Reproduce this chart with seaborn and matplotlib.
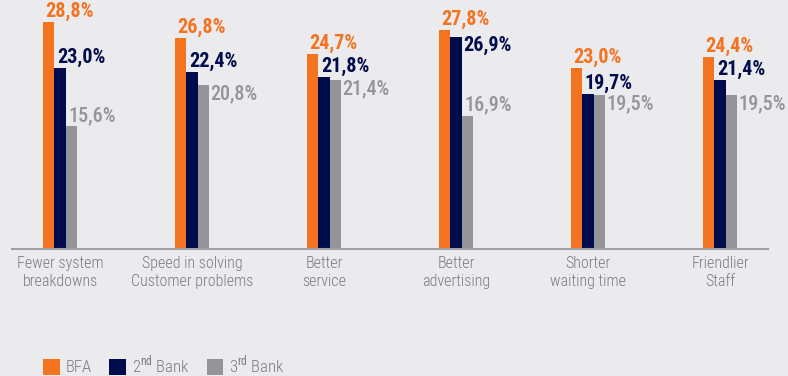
import matplotlib
matplotlib.use("Agg")
import matplotlib.pyplot as plt
from matplotlib import font_manager
from matplotlib.patches import Patch
import pandas as pd
import seaborn as sns

categories = ["Fewer system\nbreakdowns", "Speed in solving\nCustomer problems", "Better\nservice",
              "Better\nadvertising", "Shorter\nwaiting time", "Friendlier\nStaff"]
series = ["BFA", "2nd Bank", "3rd Bank"]
bfa = [28.8, 26.8, 24.7, 27.8, 23.0, 24.4]
bank2 = [23.0, 22.4, 21.8, 26.9, 19.7, 21.4]
bank3 = [15.6, 20.8, 21.4, 16.9, 19.5, 19.5]
legend_labels = ["BFA", r"2$^{\mathrm{nd}}$ Bank", r"3$^{\mathrm{rd}}$ Bank"]

# value labels that sit beside their bar instead of above it: (series index, category index)
side_labels = {(2, 1), (2, 2), (1, 3), (2, 4), (2, 5)}

colors = ["#F47321", "#000C4B", "#939598"]
label_weights = ["bold", "bold", "medium"]
bg = "#EBEBED"
text_grey = "#7C7C7E"

sns.set_theme(style="white")
available = {f.name for f in font_manager.fontManager.ttflist}
font = next((f for f in ["Roboto Condensed", "Archivo Narrow", "Barlow Semi Condensed",
                         "Encode Sans Condensed", "Liberation Sans"] if f in available), "DejaVu Sans")
plt.rcParams["font.family"] = [font, "DejaVu Sans"]
plt.rcParams["mathtext.fontset"] = "custom"
plt.rcParams["mathtext.rm"] = font

df = pd.DataFrame({
    "category": categories * 3,
    "series": [s for s in series for _ in categories],
    "value": bfa + bank2 + bank3,
})

fig = plt.figure(figsize=(7.88, 3.76), dpi=100, facecolor=bg)
ax = fig.add_axes([12 / 788, 127 / 376, 756 / 788, 249 / 376])
ax.set_facecolor(bg)

sns.barplot(data=df, x="category", y="value", hue="series", hue_order=series,
            palette=colors, width=0.26, saturation=1, ax=ax, legend=False,
            edgecolor="none", linewidth=0)

ax.set_xlim(-0.364, 5.364)
ax.set_ylim(0, 31.6)

for si, (container, color, w) in enumerate(zip(ax.containers, colors, label_weights)):
    for ci, bar in enumerate(container):
        h = bar.get_height()
        txt = f"{h:.1f}%".replace(".", ",")
        if (si, ci) in side_labels:
            ax.text(bar.get_x() + bar.get_width() + 0.008, h + 0.15, txt,
                    color=color, fontsize=14.5, fontweight=w, ha="left", va="top",
                    clip_on=False)
        else:
            ax.text(bar.get_x() + 0.02, h + 0.15, txt,
                    color=color, fontsize=14.5, fontweight=w, ha="left", va="bottom",
                    clip_on=False)

for s in ["top", "right", "left"]:
    ax.spines[s].set_visible(False)
ax.spines["bottom"].set_color("#A0A0A2")
ax.spines["bottom"].set_linewidth(1.5)
ax.set_yticks([])
ax.set_xlabel("")
ax.set_ylabel("")
ax.tick_params(axis="x", length=0, pad=5, labelsize=11.5, labelcolor=text_grey)
ax.set_xticks(range(len(categories)))
ax.set_xticklabels(categories, linespacing=1.25, fontweight="light")

handles = [Patch(facecolor=c, edgecolor="none") for c in colors]
leg = fig.legend(handles, legend_labels, loc="lower left", bbox_to_anchor=(28 / 788, -15 / 376),
                 ncol=3, frameon=False, fontsize=12, labelcolor=text_grey,
                 handlelength=1.0, handleheight=1.1, handletextpad=0.35, columnspacing=1.05)
for t in leg.get_texts():
    t.set_fontweight("light")

fig.savefig("out.png", dpi=100, facecolor=bg)
